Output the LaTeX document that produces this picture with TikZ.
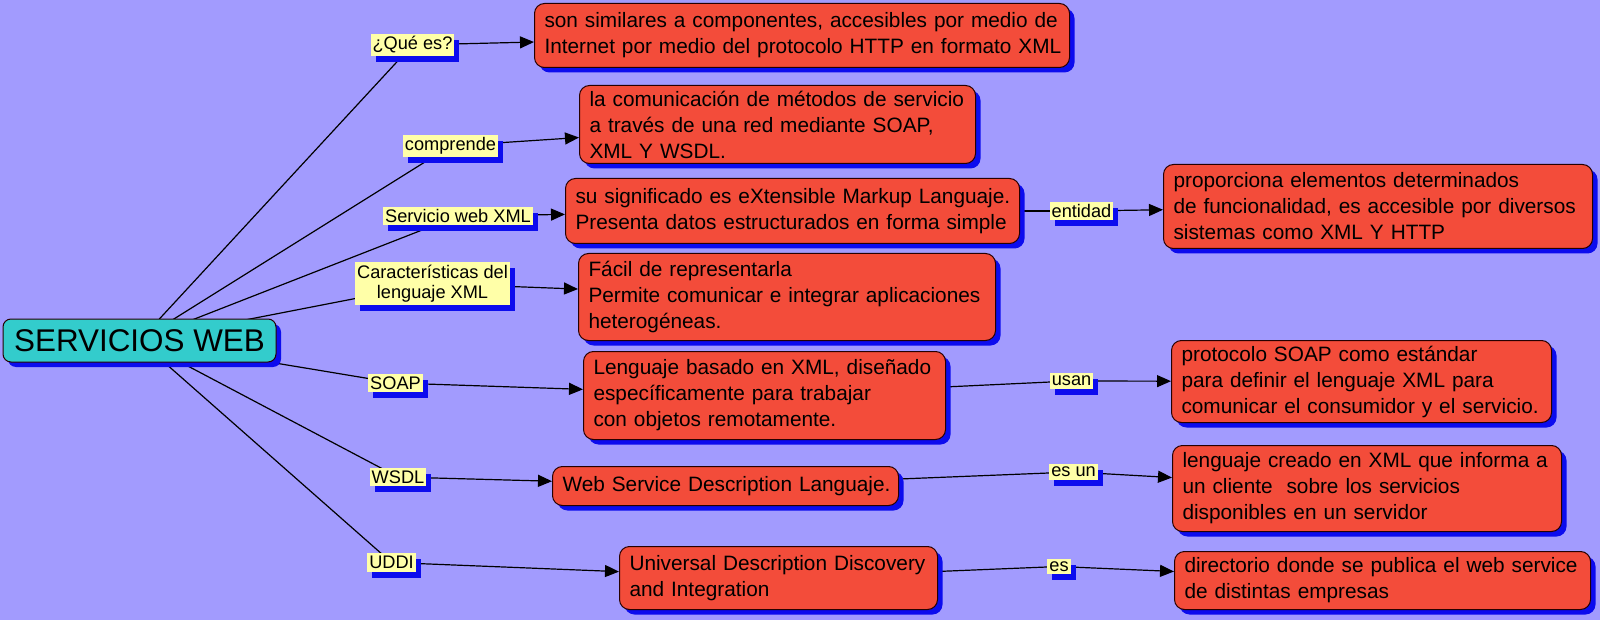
\documentclass[tikz,border=0pt]{standalone}
\usepackage{fontspec}
\setmainfont{Liberation Sans}
\usetikzlibrary{arrows.meta,shadows}
\pgfdeclarelayer{canvas}
\pgfdeclarelayer{links}
\pgfsetlayers{canvas,links,main}
\definecolor{bglav}{RGB}{162,155,254}
\definecolor{cred}{RGB}{243,76,58}
\definecolor{cteal}{RGB}{51,204,204}
\definecolor{cyel}{RGB}{255,255,168}
\definecolor{shblue}{RGB}{12,12,238}
\tikzset{
  concept/.style={draw=black!85!red,fill=cred,rounded corners=5pt,anchor=north west,
                  align=left,inner xsep=5pt,inner ysep=2pt,line width=0.5pt,
                  font=\fontsize{10.4}{13}\selectfont,
                  % lines are broken by hand only
                  execute at begin node={\rightskip=0pt plus 1fil minus 15pt\hyphenpenalty=10000},
                  drop shadow={shadow xshift=2.5pt,shadow yshift=-2.5pt,fill=shblue,opacity=1}},
  rootbox/.style={draw=black!85!red,fill=cteal,rounded corners=4pt,line width=0.5pt,
                  minimum width=136.5pt,minimum height=21.5pt,
                  font=\fontsize{15.7}{18}\selectfont,
                  drop shadow={shadow xshift=2.5pt,shadow yshift=-2.5pt,fill=shblue,opacity=1}},
  phrase/.style ={fill=cyel,inner xsep=1pt,inner ysep=1.4pt,align=center,
                  font=\fontsize{9.1}{10}\selectfont,
                  drop shadow={shadow xshift=2.5pt,shadow yshift=-3pt,fill=shblue,opacity=1}},
  link/.style   ={line width=0.6pt},
  flow/.style   ={link,-{Triangle[length=7pt,width=6pt]}},
}

\begin{document}
\begin{tikzpicture}[x=0.5pt,y=-0.5pt]
  \useasboundingbox (0,0) rectangle (1600,620);
  \begin{pgfonlayer}{canvas}
    \fill[bglav] (0,0) rectangle (1600,620);
  \end{pgfonlayer}
  \node[rootbox] (sw) at (139.5,340.5) {SERVICIOS WEB};
  % concepts
  \node[concept,text width=257.5pt,minimum height=32pt] (bq) at (534,3)
       {son similares a componentes, accesibles por medio de\\Internet por medio del protocolo HTTP en formato XML};
  \node[concept,text width=188pt,minimum height=39pt] (bc) at (579,85)
       {la comunicación de métodos de servicio\\a través de una red mediante SOAP,\\XML Y WSDL.};
  \node[concept,text width=217pt,minimum height=32.5pt] (bs) at (565,178)
       {su significado es eXtensible Markup Languaje.\\Presenta datos estructurados en forma simple};
  \node[concept,text width=204.5pt,minimum height=42pt] (bent) at (1163,164)
       {proporciona elementos determinados\\de funcionalidad, es accesible por diversos\\sistemas como XML Y HTTP};
  \node[concept,text width=198.5pt,minimum height=43.5pt] (bk) at (578,253)
       {Fácil de representarla\\Permite comunicar e integrar aplicaciones\\heterogéneas.};
  \node[concept,text width=171pt,minimum height=44pt] (bsoap) at (583,351)
       {Lenguaje basado en XML, diseñado\\específicamente para trabajar\\con objetos remotamente.};
  \node[concept,text width=180pt,minimum height=41pt] (busan) at (1171,340)
       {protocolo SOAP como estándar\\para definir el lenguaje XML para\\comunicar el consumidor y el servicio.};
  \node[concept,text width=163pt,minimum height=19.5pt] (bwsdl) at (552,466)
       {Web Service Description Languaje.};
  \node[concept,text width=184.5pt,minimum height=43pt] (besun) at (1172,445)
       {lenguaje creado en XML que informa a\\un cliente\ \ sobre los servicios\\disponibles en un servidor};
  \node[concept,text width=149pt,minimum height=31.5pt] (buddi) at (619,546)
       {Universal Description Discovery\\and Integration};
  \node[concept,text width=198pt,minimum height=29pt] (bes) at (1174,551)
       {directorio donde se publica el web service\\de distintas empresas};
  % linking phrases
  \node[phrase] (lq) at (412.5,45) {¿Qué es?};
  \node[phrase] (lc) at (450.5,146) {comprende};
  \node[phrase] (ls) at (458,216) {Servicio web XML};
  \node[phrase] (lk) at (432.5,283.5) {Características del\\lenguaje XML};
  \node[phrase] (lsoap) at (395.5,383) {SOAP};
  \node[phrase] (lwsdl) at (398,477) {WSDL};
  \node[phrase] (luddi) at (391.5,562.5) {UDDI};
  \node[phrase] (lent) at (1081.5,211) {entidad};
  \node[phrase] (lusan) at (1071.5,381) {usan};
  \node[phrase] (lesun) at (1073.5,472) {es un};
  \node[phrase] (les) at (1059,566.5) {es};
  % connectors run centre to centre, under the nodes
  \begin{pgfonlayer}{links}
    \foreach \l in {lq,lc,ls,lk,lsoap,lwsdl,luddi}
      \draw[link] (sw.center) -- (\l.center);
    \foreach \b/\l in {bs/lent,bsoap/lusan,bwsdl/lesun,buddi/les}
      \draw[link] (\b.center) -- (\l.center);
    \foreach \l/\b in {lq/bq,lc/bc,ls/bs,lk/bk,lsoap/bsoap,lwsdl/bwsdl,luddi/buddi,
                       lent/bent,lusan/busan,lesun/besun,les/bes}
      \draw[flow] (\l.center) -- (\b);
  \end{pgfonlayer}
\end{tikzpicture}
\end{document}
